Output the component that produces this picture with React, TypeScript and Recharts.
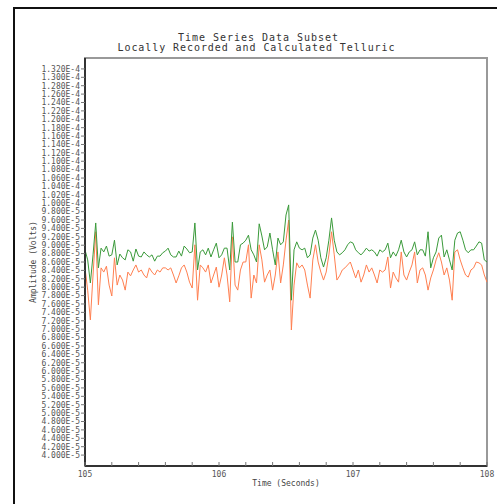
import React from "react";
import {
  LineChart,
  Line,
  XAxis,
  YAxis,
  ReferenceArea,
} from "recharts";

// sample times, 0.02 s apart
const TIMES = Array.from({ length: 151 }, (_, i) => +(105 + i * 0.02).toFixed(2));

// amplitudes in units of 1e-5 V
const RECORDED = [
  8.89, 8.65, 8.10, 8.77, 9.53, 8.46, 8.93, 8.84, 8.98, 8.74,
  8.77, 9.12, 8.53, 8.79, 8.70, 8.65, 8.89, 8.84, 8.62, 8.91,
  8.74, 8.72, 8.84, 8.77, 8.72, 8.77, 8.62, 8.74, 8.74, 8.82,
  8.86, 8.93, 8.77, 8.72, 8.72, 8.86, 8.74, 8.98, 8.91, 8.82,
  8.84, 9.53, 8.41, 8.84, 8.89, 8.77, 8.93, 8.72, 8.89, 9.05,
  8.70, 8.77, 8.93, 8.93, 8.41, 9.55, 8.60, 8.60, 9.01, 9.05,
  9.12, 9.24, 8.89, 8.77, 8.60, 9.51, 9.22, 8.89, 8.96, 9.29,
  8.89, 8.53, 9.17, 9.01, 9.08, 9.72, 9.96, 7.69, 8.89, 9.08,
  8.93, 8.89, 8.93, 8.70, 8.77, 9.17, 9.36, 9.12, 8.70, 8.48,
  8.70, 9.12, 9.65, 9.12, 8.84, 8.77, 8.82, 8.89, 9.01, 9.08,
  9.05, 8.89, 8.82, 8.77, 8.84, 8.93, 8.86, 8.89, 8.84, 8.74,
  8.89, 8.84, 8.89, 9.05, 8.70, 8.84, 8.74, 8.89, 9.12, 8.84,
  8.72, 8.84, 8.89, 9.08, 8.77, 8.89, 8.89, 8.74, 9.32, 8.46,
  8.70, 8.84, 9.17, 9.24, 8.72, 8.89, 8.65, 8.41, 9.12, 9.29,
  9.32, 9.12, 8.89, 8.82, 8.89, 8.89, 8.98, 9.08, 9.05, 8.65,
  8.60,
];

const CALCULATED = [
  8.46, 7.93, 7.22, 8.29, 9.32, 7.58, 8.46, 8.36, 8.50, 8.05,
  7.79, 8.70, 8.05, 8.29, 8.17, 7.93, 8.36, 8.27, 8.41, 8.53,
  8.36, 8.41, 8.29, 8.22, 8.46, 8.36, 8.29, 8.41, 8.36, 8.46,
  8.46, 8.41, 8.46, 8.29, 8.10, 8.27, 8.46, 8.53, 8.36, 8.12,
  7.98, 9.01, 7.69, 8.53, 8.46, 8.36, 8.53, 8.10, 8.29, 8.48,
  8.00, 8.29, 8.70, 8.29, 7.65, 9.20, 8.05, 7.93, 8.41, 8.60,
  8.60, 9.01, 7.74, 8.29, 8.10, 9.01, 8.65, 8.12, 8.29, 8.41,
  7.93, 8.29, 8.84, 8.10, 8.53, 9.12, 9.60, 6.98, 8.05, 8.58,
  8.46, 8.53, 8.41, 8.05, 7.74, 8.65, 9.01, 8.60, 8.36, 8.17,
  8.36, 8.77, 9.32, 8.77, 8.17, 8.27, 8.41, 8.46, 8.53, 8.60,
  8.41, 8.22, 8.41, 8.12, 8.29, 8.53, 8.36, 8.46, 8.29, 8.10,
  8.41, 8.36, 8.41, 8.72, 7.98, 8.36, 8.22, 8.12, 8.84, 8.29,
  8.17, 8.36, 8.53, 8.84, 8.10, 8.41, 8.46, 8.29, 7.93, 8.22,
  8.41, 8.65, 8.82, 8.60, 8.29, 8.46, 8.17, 7.69, 8.84, 8.89,
  8.65, 8.46, 8.29, 8.24, 8.41, 8.46, 8.60, 8.58, 8.53, 8.29,
  8.12,
];

const X_TICKS = Array.from({ length: 16 }, (_, i) => +(105 + i * 0.2).toFixed(1));
const X_LABELS = [105, 106, 107, 108];
const Y_TICKS = Array.from({ length: 47 }, (_, i) => +(4 + i * 0.2).toFixed(1));

const data = TIMES.map((t, i) => ({
  t,
  recorded: RECORDED[i],
  calculated: CALCULATED[i],
}));

const MONO = "'DejaVu Sans Mono', 'Liberation Mono', monospace";

const fmtY = (v: number) => (v * 1e-5).toExponential(3).toUpperCase();

const XTick = (props: any) => {
  const { x, y, payload } = props;
  const v = payload.value;
  const major = X_LABELS.some((m) => Math.abs(m - v) < 1e-6);
  return (
    <g>
      <line x1={x} x2={x} y1={y} y2={y - 4} stroke="#777" />
      {major && (
        <text x={x} y={y + 11} textAnchor="middle" fontSize={8} fill="#555" fontFamily={MONO}>
          {Math.round(v)}
        </text>
      )}
    </g>
  );
};

export default function App() {
  return (
    <div style={{ position: "absolute", left: 0, top: 0, width: 497, height: 504, background: "#fff", overflow: "hidden" }}>
      <div
        style={{
          position: "absolute",
          left: 13,
          top: 7,
          width: 600,
          height: 600,
          borderTop: "2px solid #111",
          borderLeft: "2px solid #111",
        }}
      />
      <LineChart
        width={497}
        height={504}
        data={data}
        margin={{ top: 58, right: 10, bottom: 18, left: 0 }}
        style={{ position: "absolute", left: 0, top: 0 }}
      >
        <ReferenceArea x1={105} x2={108} y1={3.74} y2={13.46} fill="none" stroke="#999" strokeWidth={2} />
        <XAxis
          dataKey="t"
          type="number"
          domain={[105, 108]}
          ticks={X_TICKS}
          interval={0}
          height={20}
          tickSize={0}
          tickMargin={0}
          tickLine={false}
          tick={<XTick />}
          axisLine={{ stroke: "#333", strokeWidth: 2 }}
        />
        <YAxis
          type="number"
          domain={[3.74, 13.46]}
          ticks={Y_TICKS}
          interval={0}
          width={85}
          tickSize={4}
          tickMargin={1}
          tickFormatter={fmtY}
          tick={{ fontSize: 8, fill: "#555", fontFamily: MONO }}
          tickLine={{ stroke: "#777" }}
          axisLine={{ stroke: "#333", strokeWidth: 2 }}
          allowDataOverflow
        />
        <Line
          dataKey="calculated"
          stroke="#ff7f50"
          strokeWidth={1}
          dot={false}
          isAnimationActive={false}
        />
        <Line
          dataKey="recorded"
          stroke="#3a9a3a"
          strokeWidth={1}
          dot={false}
          isAnimationActive={false}
        />
      </LineChart>
      <svg width={497} height={504} style={{ position: "absolute", left: 0, top: 0, pointerEvents: "none" }}>
        <text
          x={258}
          y={41}
          textAnchor="middle"
          fontSize={10}
          fill="#333"
          fontFamily={MONO}
          textLength={160}
          lengthAdjust="spacing"
        >
          Time Series Data Subset
        </text>
        <text
          x={256}
          y={51}
          textAnchor="middle"
          fontSize={10}
          fill="#333"
          fontFamily={MONO}
          textLength={277}
          lengthAdjust="spacing"
        >
          Locally Recorded and Calculated Telluric
        </text>
        <text x={286} y={486} textAnchor="middle" fontSize={8} fill="#444" fontFamily={MONO}>
          Time (Seconds)
        </text>
        <text
          x={36}
          y={262}
          textAnchor="middle"
          fontSize={8}
          fill="#444"
          fontFamily={MONO}
          transform="rotate(-90 36 262)"
        >
          Amplitude (Volts)
        </text>
      </svg>
    </div>
  );
}
